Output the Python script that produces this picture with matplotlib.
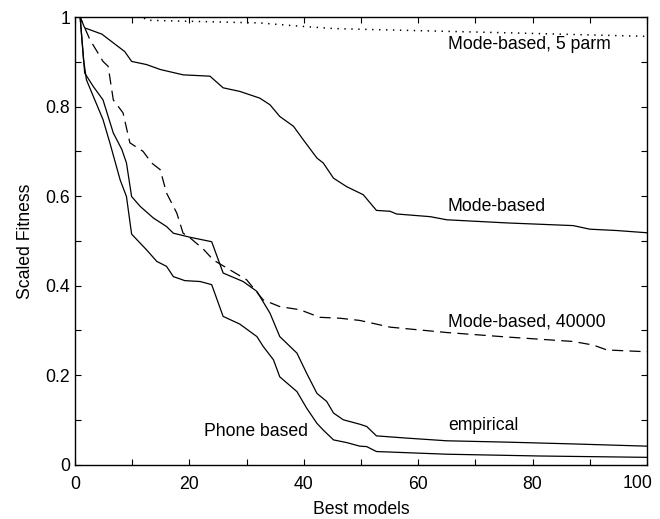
import matplotlib
matplotlib.use("Agg")
import matplotlib.pyplot as plt
from matplotlib.ticker import MultipleLocator, FormatStrFormatter, FuncFormatter

plt.rcParams['font.family'] = ['Liberation Sans', 'DejaVu Sans']
plt.rcParams['lines.scale_dashes'] = False

# Mode-based (solid, top)
mode_x = [0, 0.9, 1.7, 4.7, 8.7, 9.9, 12.5, 14.9, 18.9, 23.6, 25.9, 28.8, 32.3, 34.1, 35.8,
          38.2, 39.9, 42.3, 43.4, 45.2, 47.5, 50.4, 52.7, 55.1, 56.2, 62.1, 65, 75.5, 87.1,
          90, 94.7, 100]
mode_y = [1.0, 1.0, 0.976, 0.962, 0.923, 0.901, 0.894, 0.883, 0.871, 0.868, 0.842, 0.834,
          0.819, 0.804, 0.778, 0.756, 0.726, 0.685, 0.674, 0.640, 0.621, 0.603, 0.568, 0.566,
          0.560, 0.554, 0.547, 0.540, 0.534, 0.526, 0.523, 0.518]

# Mode-based, 5 parm (dotted)
m5_x = [0, 11.9, 12.5, 32.3, 39, 44.6, 46.3, 75.5, 100]
m5_y = [1.0, 1.0, 0.993, 0.987, 0.980, 0.975, 0.974, 0.965, 0.957]

# Mode-based, 40000 (dashed)
m4_x = [0, 0.9, 2.6, 4.9, 5.8, 6.7, 8.4, 9.6, 11.9, 13.4, 14.9, 16, 17.8, 18.9, 19.8, 22.4,
        24.2, 27.1, 30, 32.9, 35.8, 39.3, 42.8, 46.3, 49.8, 55.1, 65, 75.5, 87.1, 90.6, 93,
        100]
m4_y = [1.0, 1.0, 0.950, 0.901, 0.890, 0.815, 0.786, 0.719, 0.700, 0.674, 0.659, 0.607,
        0.562, 0.517, 0.510, 0.482, 0.457, 0.435, 0.413, 0.368, 0.353, 0.346, 0.329, 0.327,
        0.322, 0.307, 0.295, 0.285, 0.275, 0.267, 0.256, 0.252]

# empirical (solid)
emp_x = [0, 0.9, 1.7, 3.2, 4.9, 6.7, 8.2, 9.0, 9.9, 11.4, 13.7, 16, 17.2, 20.1, 23.9, 25.9,
         29.4, 31.8, 34.1, 35.8, 38.8, 40.5, 42.3, 44, 45.2, 46.9, 49.8, 51, 52.7, 58, 65,
         75.5, 87.1, 100]
emp_y = [1.0, 1.0, 0.875, 0.845, 0.815, 0.741, 0.704, 0.674, 0.599, 0.577, 0.551, 0.532,
         0.517, 0.508, 0.498, 0.428, 0.409, 0.387, 0.338, 0.286, 0.249, 0.204, 0.159, 0.141,
         0.115, 0.100, 0.090, 0.085, 0.064, 0.059, 0.053, 0.050, 0.046, 0.041]

# Phone based (solid, lowest)
ph_x = [0, 0.9, 1.5, 2, 3.2, 4.9, 6.1, 7.9, 9.0, 9.9, 12.5, 14.3, 16, 17.2, 19.2, 21.9, 23.9,
        25.9, 28.8, 31.8, 32.9, 34.7, 35.8, 38.8, 40.5, 42.3, 43.4, 45.2, 47.5, 49.8, 51,
        52.7, 65, 81.3, 100]
ph_y = [1.0, 1.0, 0.905, 0.860, 0.823, 0.771, 0.719, 0.636, 0.599, 0.515, 0.480, 0.454,
        0.443, 0.420, 0.411, 0.409, 0.402, 0.331, 0.314, 0.286, 0.264, 0.234, 0.196, 0.163,
        0.126, 0.092, 0.077, 0.055, 0.049, 0.041, 0.040, 0.029, 0.023, 0.019, 0.016]

labels = ["Mode-based, 5 parm", "Mode-based", "Mode-based, 40000", "empirical", "Phone based"]
label_x = [65.2, 65.2, 65.2, 65.2, 22.6]
label_y = [0.938, 0.576, 0.319, 0.088, 0.073]

XMAX = 100

fig = plt.figure(figsize=(6.6, 5.19), dpi=100)
ax = fig.add_axes([0.1136, 0.105, 0.8667, 0.862])

lw = 0.9
ax.plot(mode_x, mode_y, color='black', lw=lw)
ax.plot(m5_x, m5_y, color='black', lw=1.1, linestyle=(0, (1.0, 4.0)))
ax.plot(m4_x, m4_y, color='black', lw=lw, linestyle=(0, (8.0, 4.5)))
ax.plot(emp_x, emp_y, color='black', lw=lw)
ax.plot(ph_x, ph_y, color='black', lw=lw)

for t, x, y in zip(labels, label_x, label_y):
    ax.text(x, y, t, fontsize=12.7, ha='left', va='center', color='black')

ax.set_xlim(0, XMAX)
ax.set_ylim(0, 1)
ax.xaxis.set_major_locator(MultipleLocator(20))
ax.xaxis.set_minor_locator(MultipleLocator(10))
ax.yaxis.set_major_locator(MultipleLocator(0.2))
ax.yaxis.set_minor_locator(MultipleLocator(0.1))
ax.yaxis.set_major_formatter(FormatStrFormatter('%g'))
# last x tick label is drawn separately, nudged left to stay inside the figure
ax.xaxis.set_major_formatter(FuncFormatter(lambda v, p: '' if v >= XMAX else '%g' % v))
ax.annotate('%g' % XMAX, xy=(XMAX, 0), xycoords='data', xytext=(-7, -14),
            textcoords='offset points', ha='center', va='center', fontsize=12.7,
            annotation_clip=False)
ax.tick_params(which='both', direction='in', top=True, right=True, length=4, width=0.8,
               labelsize=12.7)
ax.tick_params(axis='x', pad=8)
ax.set_xlabel('Best models', fontsize=12.7, labelpad=6)
ax.set_ylabel('Scaled Fitness', fontsize=12.7, labelpad=8)
for s in ax.spines.values():
    s.set_linewidth(1.0)

fig.savefig('out.png', dpi=100)
